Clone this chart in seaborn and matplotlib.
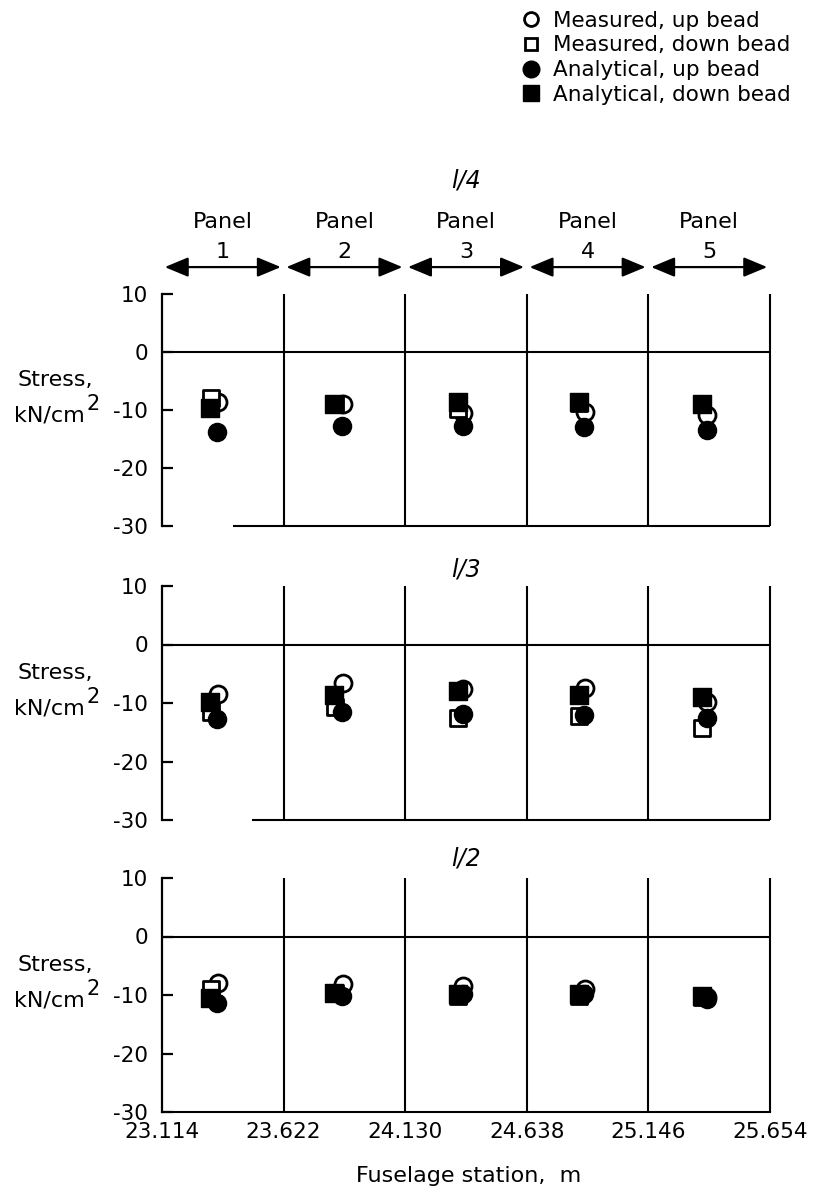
import numpy as np
import pandas as pd
import seaborn as sns
import matplotlib.pyplot as plt
from matplotlib.lines import Line2D

# Panel boundaries (fuselage station, m)
bounds = [23.114, 23.622, 24.130, 24.638, 25.146, 25.654]
tick_labels = ['23.114', '23.622', '24.130', '24.638', '25.146', '25.654']

# x positions of the markers inside each panel
x_meas_up = [23.350, 23.870, 24.372, 24.880, 25.390]
x_meas_down = [23.318, 23.836, 24.350, 24.858, 25.368]
x_anal_up = [23.345, 23.864, 24.370, 24.878, 25.392]
x_anal_down = [23.316, 23.834, 24.350, 24.856, 25.368]

locations = ['l/4', 'l/3', 'l/2']

# Stress, kN/cm^2
meas_up = {'l/4': [-8.7, -9.0, -10.5, -10.3, -10.9],
           'l/3': [-8.5, -6.5, -7.6, -7.4, -9.9],
           'l/2': [-8.0, -8.1, -8.5, -8.9, -10.4]}
meas_down = {'l/4': [-8.0, -9.0, -9.8, -8.8, -9.0],
             'l/3': [-11.6, -10.7, -12.5, -12.3, -14.2],
             'l/2': [-8.9, -9.7, -10.2, -10.2, -10.3]}
anal_up = {'l/4': [-13.8, -12.7, -12.7, -12.9, -13.5],
           'l/3': [-12.7, -11.6, -11.8, -12.0, -12.5],
           'l/2': [-11.4, -10.1, -9.8, -9.8, -10.6]}
anal_down = {'l/4': [-9.6, -9.0, -8.7, -8.6, -9.0],
             'l/3': [-9.8, -8.6, -7.9, -8.6, -9.0],
             'l/2': [-10.5, -9.7, -9.9, -9.8, -10.2]}

series = [
    ('Measured, up bead', x_meas_up, meas_up,
     dict(marker='o', color='white', edgecolor='black', linewidth=2.0, s=150, zorder=3)),
    ('Measured, down bead', x_meas_down, meas_down,
     dict(marker='s', color='white', edgecolor='black', linewidth=2.0, s=130, zorder=3)),
    ('Analytical, up bead', x_anal_up, anal_up,
     dict(marker='o', color='black', edgecolor='black', linewidth=1, s=170, zorder=4)),
    ('Analytical, down bead', x_anal_down, anal_down,
     dict(marker='s', color='black', edgecolor='black', linewidth=1, s=150, zorder=4)),
]

rows = []
for name, xs, vals, _ in series:
    for loc in locations:
        for x, v in zip(xs, vals[loc]):
            rows.append({'series': name, 'location': loc, 'station': x, 'stress': v})
df = pd.DataFrame(rows)

sns.set_theme(style='white')
plt.rcParams['font.family'] = ['DejaVu Sans']
plt.rcParams['text.color'] = 'black'
plt.rcParams['axes.labelcolor'] = 'black'
plt.rcParams['xtick.color'] = 'black'
plt.rcParams['ytick.color'] = 'black'

fig = plt.figure(figsize=(8.16, 11.96), dpi=100)
W, H = 816, 1196
rects = [(162, 294, 526), (162, 586, 820), (162, 878, 1112)]
bottom_start = [23.41, 23.49, None]
titles = [('l/4', 1.49), ('l/3', 1.07), ('l/2', 1.085)]

axes = []
for i, (loc, (x0, top, bot)) in enumerate(zip(locations, rects)):
    ax = fig.add_axes([x0 / W, 1 - bot / H, 608 / W, (bot - top) / H])
    axes.append(ax)
    sub = df[df['location'] == loc]
    for name, _, _, kw in series:
        sns.scatterplot(data=sub[sub['series'] == name], x='station', y='stress',
                        ax=ax, legend=False, **kw)
    ax.set_xlim(bounds[0], bounds[-1])
    ax.set_ylim(-30, 10)
    for sp in ['top', 'right', 'bottom']:
        ax.spines[sp].set_visible(False)
    ax.spines['left'].set_color('black')
    ax.spines['left'].set_linewidth(1.6)
    ax.vlines(bounds[1:], -30, 10, color='black', lw=1.5, clip_on=False, zorder=1)
    ax.axhline(0, color='black', lw=1.5, zorder=1)
    if bottom_start[i] is not None:
        ax.hlines(-30, bottom_start[i], bounds[-1], color='black', lw=1.5, clip_on=False)
        ax.set_xticks([])
        ax.set_xlabel('')
    else:
        ax.spines['bottom'].set_visible(True)
        ax.spines['bottom'].set_color('black')
        ax.spines['bottom'].set_linewidth(1.5)
        ax.set_xticks(bounds)
        ax.set_xticklabels(tick_labels)
        ax.tick_params(axis='x', length=0, pad=7, labelsize=15.5)
        ax.set_xlabel('Fuselage station,  m', fontsize=16, labelpad=14)
        ax.xaxis.set_label_coords(0.505, -0.23)
    ax.set_yticks([10, 0, -10, -20, -30])
    ax.set_yticklabels(['10', '0', '-10', '-20', '-30'])
    ax.tick_params(axis='y', direction='in', length=8, width=1.6, pad=10,
                   labelsize=15.5, left=True)
    ax.set_ylabel('')
    tr = ax.get_yaxis_transform()
    ax.text(-0.176, -4.8, 'Stress,', transform=tr, ha='center', va='center', fontsize=16)
    ax.text(-0.127, -10.9, 'kN/cm', transform=tr, ha='right', va='center', fontsize=16)
    ax.text(-0.125, -9.0, '2', transform=tr, ha='left', va='center', fontsize=15)
    t, ty = titles[i]
    ax.text(np.mean(bounds[2:4]), ty, t, transform=ax.get_xaxis_transform(),
            ha='center', va='center', fontsize=17, style='italic')

# Panel labels with double arrows above the top block
ax = axes[0]
for k in range(5):
    mid = (bounds[k] + bounds[k + 1]) / 2
    ax.text(mid, 1.31, 'Panel', transform=ax.get_xaxis_transform(),
            ha='center', va='center', fontsize=16)
    ax.text(mid, 1.18, str(k + 1), transform=ax.get_xaxis_transform(),
            ha='center', va='center', fontsize=16)
    ax.annotate('', xy=(bounds[k + 1], 1.116), xytext=(bounds[k], 1.116),
                xycoords=('data', 'axes fraction'),
                arrowprops=dict(arrowstyle='<|-|>,head_length=0.6,head_width=0.25',
                                color='black', lw=1.6, mutation_scale=24,
                                shrinkA=2, shrinkB=2))

handles = [
    Line2D([], [], ls='', marker='o', ms=10, mfc='white', mec='black', mew=2),
    Line2D([], [], ls='', marker='s', ms=9, mfc='white', mec='black', mew=2),
    Line2D([], [], ls='', marker='o', ms=12, mfc='black', mec='black'),
    Line2D([], [], ls='', marker='s', ms=11, mfc='black', mec='black'),
]
fig.legend(handles, [s[0] for s in series], loc='upper left',
           bbox_to_anchor=(512 / W, 1 - 2 / H), frameon=False, fontsize=15.5,
           labelspacing=0.22, handlelength=1.0, handletextpad=0.5,
           borderaxespad=0)

fig.savefig('out.png', dpi=100)
